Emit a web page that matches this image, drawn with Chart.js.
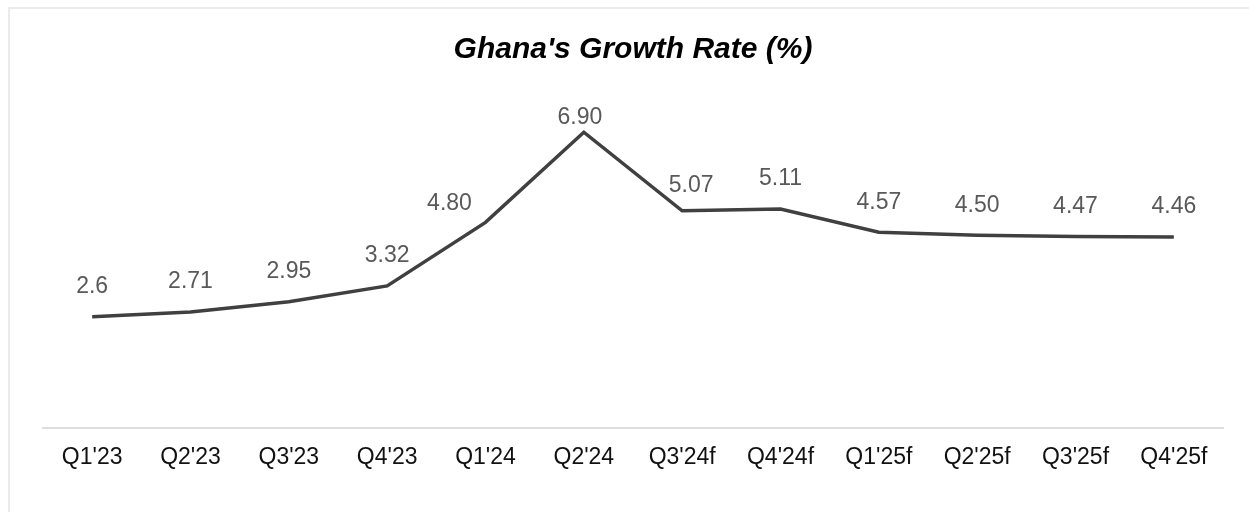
<!DOCTYPE html>
<html>
<head>
<meta charset="utf-8">
<script src="https://cdn.jsdelivr.net/npm/chart.js@4.4.1/dist/chart.umd.min.js"></script>
<style>
  html, body { margin: 0; padding: 0; background: #fff; overflow: hidden; }
  .frame {
    position: absolute; left: 8px; top: 7px; width: 1260px; height: 520px;
    border-left: 2px solid #ebebeb; border-top: 2px solid #ebebeb;
    box-sizing: border-box;
  }
  .wrap { position: absolute; left: 0; top: 0; width: 1249px; height: 512px; }
</style>
</head>
<body>
<div class="frame"></div>
<div class="wrap"><canvas id="growthChart"></canvas></div>
<script>
// Ghana quarterly growth, f = forecast
const quarters = ["Q1'23", "Q2'23", "Q3'23", "Q4'23", "Q1'24", "Q2'24",
                  "Q3'24f", "Q4'24f", "Q1'25f", "Q2'25f", "Q3'25f", "Q4'25f"];
const growthRate = [2.6, 2.71, 2.95, 3.32, 4.80, 6.90, 5.07, 5.11, 4.57, 4.50, 4.47, 4.46];
const valueLabels = ['2.6', '2.71', '2.95', '3.32', '4.80', '6.90', '5.07', '5.11', '4.57', '4.50', '4.47', '4.46'];

// label nudges (dx, dy) where the default spot would collide with the line
const labelNudge = { 4: [-36, -19], 5: [-4, -15], 6: [9, -25] };

const pointLabels = {
    id: 'pointLabels',
    afterDatasetsDraw(chart) {
        const ctx = chart.ctx;
        const meta = chart.getDatasetMeta(0);
        ctx.save();
        ctx.font = '23px Arial, "Liberation Sans", sans-serif';
        ctx.fillStyle = '#595959';
        ctx.textAlign = 'center';
        ctx.textBaseline = 'middle';
        meta.data.forEach((pt, i) => {
            const n = labelNudge[i] || [0, -30];
            ctx.fillText(valueLabels[i], pt.x + n[0], pt.y + n[1]);
        });
        ctx.restore();
    }
};

const ctx = document.getElementById('growthChart').getContext('2d');
new Chart(ctx, {
    type: 'line',
    data: {
        labels: quarters,
        datasets: [{
            label: 'Growth Rate',
            data: growthRate,
            borderColor: '#404040',
            borderWidth: 3.5,
            pointRadius: 0,
            tension: 0,
            fill: false
        }]
    },
    options: {
        responsive: true,
        maintainAspectRatio: false,
        animation: false,
        layout: { padding: { left: 43, right: 26, top: 0, bottom: 26 } },
        plugins: {
            legend: { display: false },
            tooltip: { enabled: false },
            title: {
                display: true,
                text: "Ghana's Growth Rate (%)",
                color: '#000',
                font: { family: 'Arial, "Liberation Sans", sans-serif', size: 30, weight: 'bold', style: 'italic', lineHeight: 1.2 },
                padding: { top: 32, bottom: 17 }
            }
        },
        scales: {
            x: {
                offset: true,
                grid: { display: false, drawTicks: false },
                border: { display: true, color: '#dedede', width: 2 },
                ticks: {
                    color: '#111',
                    padding: 15,
                    maxRotation: 0,
                    autoSkip: false,
                    font: { family: 'Arial, "Liberation Sans", sans-serif', size: 23 }
                }
            },
            y: {
                display: false,
                min: 0,
                max: 8
            }
        }
    },
    plugins: [pointLabels]
});
</script>
</body>
</html>
